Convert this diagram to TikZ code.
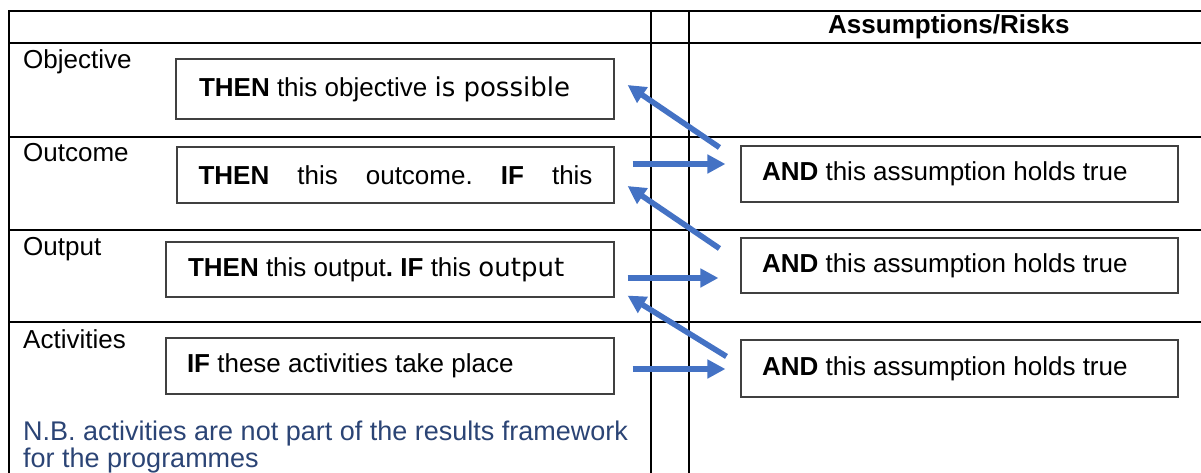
\documentclass[tikz,border=0pt]{standalone}
\usepackage{fontspec}
\setmainfont{Liberation Sans}
\newfontfamily\dvfont{DejaVu Sans}
\usetikzlibrary{arrows.meta,calc}
\definecolor{arrowblue}{HTML}{4472C4}
\definecolor{nbblue}{HTML}{2B4475}
\frenchspacing
\begin{document}
\begin{tikzpicture}[x=1pt,y=-1pt,
  grid/.style={line width=2pt, draw=black},
  box/.style={draw=black!75, line width=1.1pt, inner sep=0pt, font=\fontsize{26}{30}\selectfont},
  rowlabel/.style={anchor=base west, inner sep=0pt, font=\fontsize{26}{30}\selectfont},
  flow/.style={draw=arrowblue, line width=5.6pt, -{Triangle[length=18pt,width=18pt]}}]
\useasboundingbox (0,0) rectangle (1201,473);
% table grid
\draw[grid] (1201,11) -- (9,11) -- (9,473);
\draw[grid] (9,43) -- (1201,43);
\draw[grid] (9,137) -- (1201,137);
\draw[grid] (9,230) -- (1201,230);
\draw[grid] (9,322) -- (1201,322);
\draw[grid] (651,11) -- (651,473);
\draw[grid] (689,11) -- (689,473);
% header
\node[anchor=base west, inner sep=0pt, font=\bfseries\fontsize{26}{30}\selectfont] (hdr) at (828,33.5) {Assumptions/Risks};
% row labels
\node[rowlabel] (lobj) at (23,68.5) {Objective};
\node[rowlabel] (lout) at (23,162) {Outcome};
\node[rowlabel] (lput) at (23,255) {Output};
\node[rowlabel] (lact) at (23,348) {Activities};
% left boxes
\node[box, minimum width=438pt, minimum height=60pt] (obj) at (395,89)
  {\makebox[392pt][l]{\textbf{THEN} this objective {\dvfont is possible}}};
\node[box, minimum width=437pt, minimum height=56pt] (outc) at (395.5,175)
  {\makebox[394pt][s]{\textbf{THEN} this outcome. \textbf{IF} this}};
\node[box, minimum width=448pt, minimum height=55pt] (outp) at (390,269.5)
  {\makebox[404pt][l]{\textbf{THEN} this output\textbf{.} \textbf{IF} this {\dvfont output}}};
\node[box, minimum width=448pt, minimum height=56pt] (act) at (390,366)
  {\makebox[406pt][l]{\textbf{IF} these activities take place}};
% right boxes
\node[box, minimum width=437pt, minimum height=56pt] (and1) at (959.5,174)
  {\makebox[395pt][l]{\textbf{AND} this assumption holds true}};
\node[box, minimum width=437pt, minimum height=55pt] (and2) at (959.5,265.5)
  {\makebox[395pt][l]{\textbf{AND} this assumption holds true}};
\node[box, minimum width=437pt, minimum height=57pt] (and3) at (959.5,368.5)
  {\makebox[395pt][l]{\textbf{AND} this assumption holds true}};
% note
\node[anchor=base west, inner sep=0pt, text=nbblue, font=\fontsize{27}{27}\selectfont] (nb) at (23,440)
  {\parbox[t]{700pt}{N.B. activities are not part of the results framework\\for the programmes}};
% arrows
\draw[flow] ([shift={(-21,2)}]and1.north west) -- ([shift={(13,-4)}]obj.east);
\draw[flow] ([shift={(18,-11)}]outc.east) -- ([shift={(-15,-10)}]and1.west);
\draw[flow] ([shift={(-21,11)}]and2.north west) -- ([shift={(13,11)}]outc.east);
\draw[flow] ([shift={(13,8.5)}]outp.east) -- ([shift={(-22,12.5)}]and2.west);
\draw[flow] ([shift={(-14,17)}]and3.north west) -- ([shift={(13,-2)}]outp.south east);
\draw[flow] ([shift={(18,3)}]act.east) -- ([shift={(-15,0.5)}]and3.west);
\end{tikzpicture}
\end{document}
